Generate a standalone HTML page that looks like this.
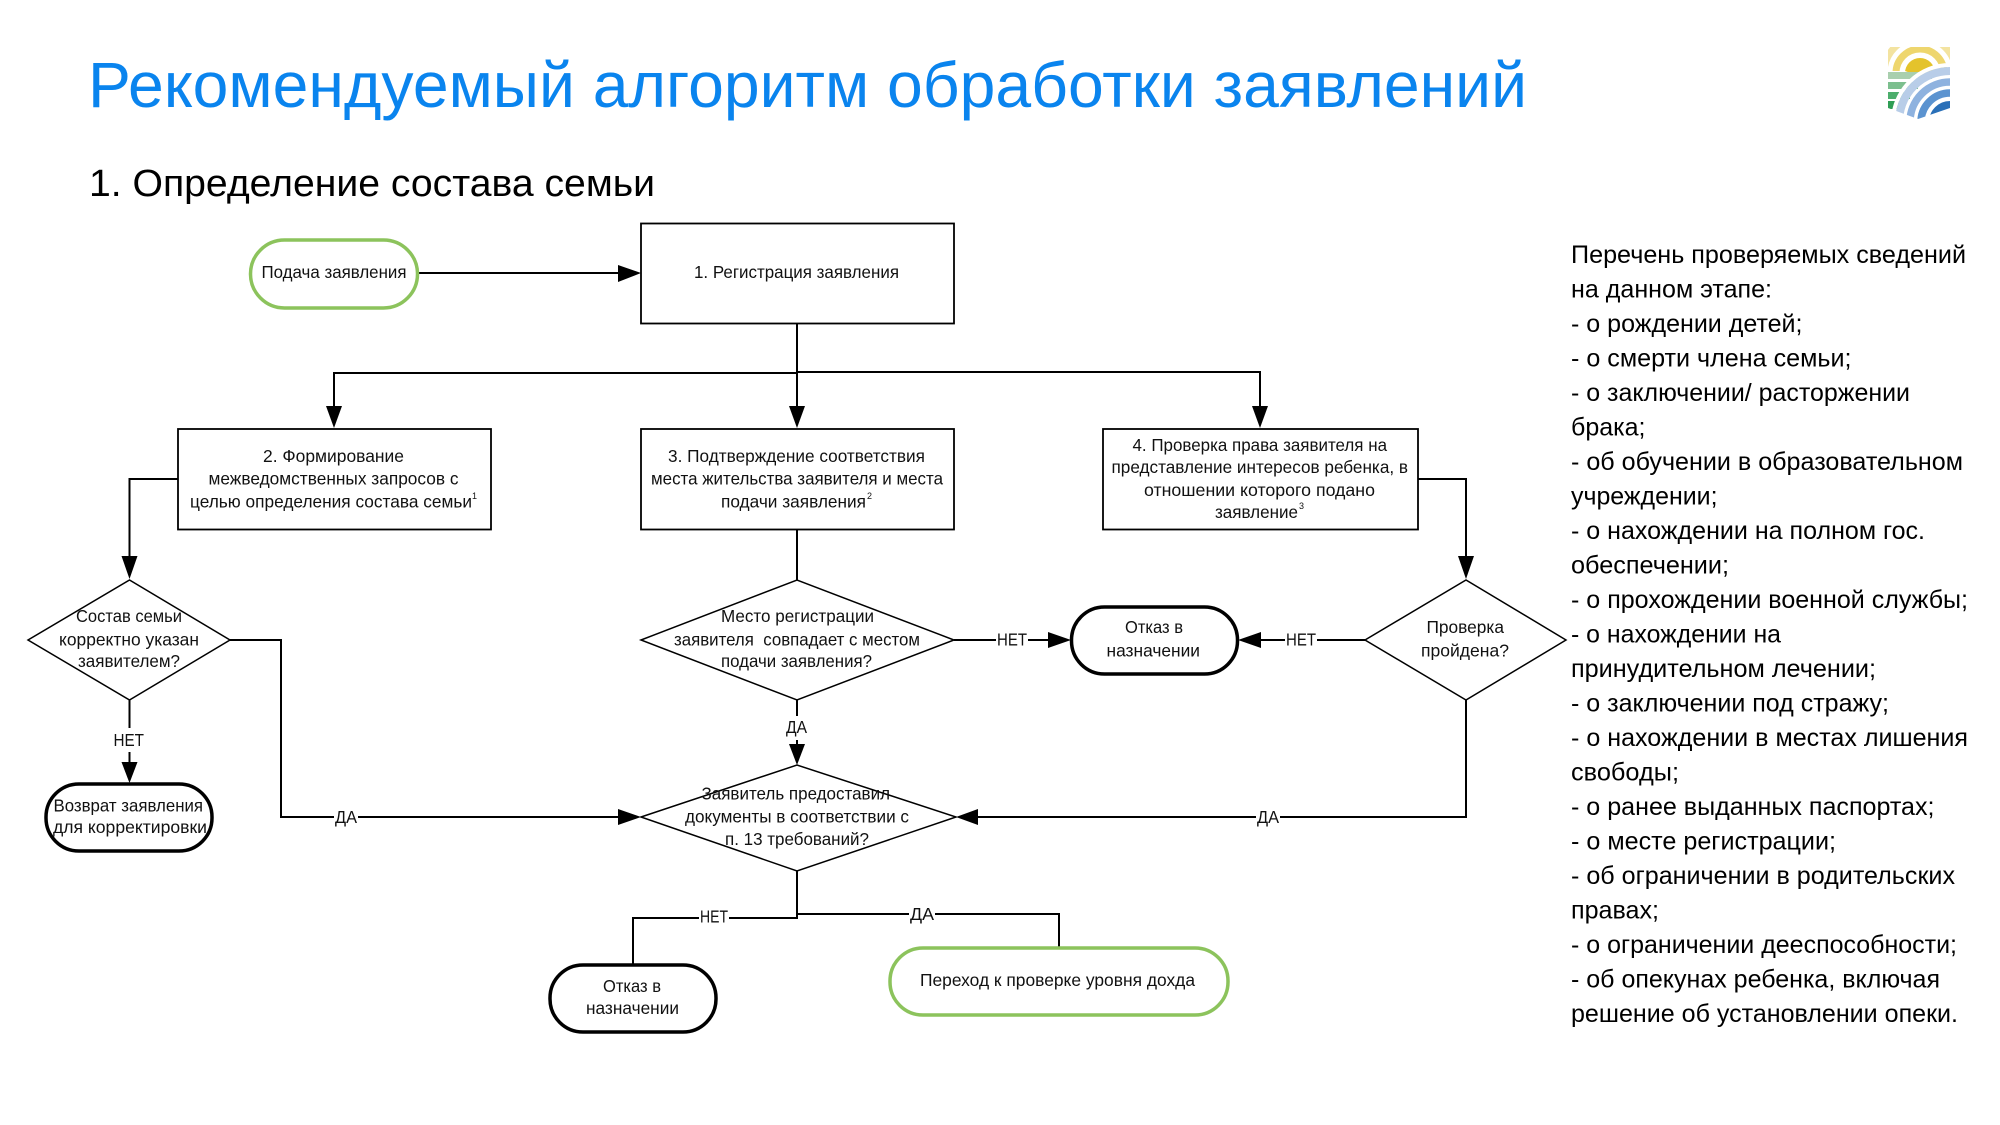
<!DOCTYPE html>
<html lang="ru"><head><meta charset="utf-8"><title>Рекомендуемый алгоритм обработки заявлений</title>
<style>
html,body{margin:0;padding:0;background:#fff}
svg{display:block}
text{font-family:"Liberation Sans",sans-serif;fill:#111}
.d text{font-size:17.500px}
.b text{font-size:25px;fill:#000}
.l{fill:none;stroke:#000;stroke-width:2}
.s{fill:#fff;stroke:#000;stroke-width:1.800}
.n{fill:#fff;stroke:#8cc35c;stroke-width:3.500}
.k{fill:#fff;stroke:#000;stroke-width:3.500}
</style></head><body>
<svg width="2000" height="1125" viewBox="0 0 2000 1125" xmlns="http://www.w3.org/2000/svg">
<rect width="2000" height="1125" fill="#fff"/>
<text x="88" y="107" font-size="64" textLength="1439" lengthAdjust="spacingAndGlyphs" style="fill:#0a84ee">Рекомендуемый алгоритм обработки заявлений</text>
<text x="89" y="196" font-size="38" textLength="566" lengthAdjust="spacingAndGlyphs" style="fill:#000">1. Определение состава семьи</text>

<!-- logo -->
<defs><clipPath id="lg"><path d="M1888 47H1950V108L1918 119L1888 108Z"/></clipPath></defs>
<g clip-path="url(#lg)" fill="none">
<circle cx="1920" cy="73" r="36" stroke="#f3e3a0" stroke-width="7"/>
<circle cx="1920" cy="73" r="24" stroke="#eed66e" stroke-width="7"/>
<circle cx="1920" cy="73" r="15" fill="#e4c32c"/>
<path d="M1904 72Q1914 76 1920 76Q1926 76 1938 72L1920 76Z" fill="#e4c32c"/>
<rect x="1888" y="71" width="62" height="50" fill="#fff"/>
<path d="M1905 71H1936L1919 76Z" fill="#e4c32c"/>
<rect x="1888" y="72" width="44" height="7" fill="#a9cfae"/>
<rect x="1888" y="82" width="30" height="7" fill="#7cbf8e"/>
<rect x="1888" y="92" width="22" height="7" fill="#4cae6c"/>
<rect x="1888" y="101" width="16" height="8" fill="#2f9e55"/>
<circle cx="1950" cy="122" r="57" stroke="#fff" stroke-width="4"/>
<circle cx="1950" cy="122" r="51" stroke="#b8cde8" stroke-width="8"/>
<circle cx="1950" cy="122" r="40" stroke="#8eb2df" stroke-width="7.500"/>
<circle cx="1950" cy="122" r="29" stroke="#5b93d0" stroke-width="7.500"/>
<circle cx="1950" cy="122" r="16" stroke="#2a70b8" stroke-width="10"/>
</g>

<!-- connectors -->
<g class="l">
<path d="M417 273H620"/>
<path d="M797 323V410"/>
<path d="M334 410V373H797"/>
<path d="M797 372H1260V410"/>
<path d="M178 479H129.500V560"/>
<path d="M1418 479H1466V560"/>
<path d="M797 529V580"/>
<path d="M129.500 700V765"/>
<path d="M230 640H281V817H620"/>
<path d="M797 700V748"/>
<path d="M954 640H1050"/>
<path d="M1365 640H1258"/>
<path d="M1466 700V817H975"/>
<path d="M797 871V918H633V964"/>
<path d="M797 914H1059V947"/>
</g>
<!-- arrowheads -->
<g fill="#000">
<path d="M618 265L641 273L618 282Z"/>
<path d="M326 406L334 428L342 406Z"/>
<path d="M789 406L797 428L805 406Z"/>
<path d="M1252 406L1260 428L1268 406Z"/>
<path d="M121.500 556L129.500 579L137.500 556Z"/>
<path d="M1458 556L1466 579L1474 556Z"/>
<path d="M121.500 762L129.500 783L137.500 762Z"/>
<path d="M789 744L797 765L805 744Z"/>
<path d="M618 809L641 817L618 825Z"/>
<path d="M978 809L956 817L978 825Z"/>
<path d="M1048 632L1071 640L1048 648Z"/>
<path d="M1261 632L1238 640L1261 648Z"/>
</g>

<!-- shapes -->
<rect class="n" x="250.500" y="240" width="167" height="68" rx="34"/>
<rect class="s" x="641" y="223.500" width="313" height="100"/>
<rect class="s" x="178" y="429" width="313" height="100.500"/>
<rect class="s" x="641" y="429" width="313" height="100.500"/>
<rect class="s" x="1103" y="429" width="315" height="100.500"/>
<g style="fill:#fff">
<path class="s" style="stroke-width:1.500" d="M28 640L129.500 580L230 640L129.500 700Z"/>
<path class="s" style="stroke-width:1.500" d="M641 640L797 580L954 640L797 700Z"/>
<path class="s" style="stroke-width:1.500" d="M641 817L797 765L956 817L797 871Z"/>
<path class="s" style="stroke-width:1.500" d="M1365 640L1466 580L1566 640L1466 700Z"/>
</g>
<rect class="k" x="46" y="784" width="166" height="67" rx="33"/>
<rect class="k" x="550" y="965" width="166" height="67" rx="33"/>
<rect class="k" x="1071.500" y="607" width="166" height="67" rx="33"/>
<rect class="n" x="890" y="948" width="338" height="67" rx="33"/>

<!-- diagram labels -->
<g class="d">
<text x="261.500" y="278" textLength="145" lengthAdjust="spacingAndGlyphs">Подача заявления</text>
<text x="694" y="278" textLength="205" lengthAdjust="spacingAndGlyphs">1. Регистрация заявления</text>

<text x="263" y="462" textLength="141" lengthAdjust="spacingAndGlyphs">2. Формирование</text>
<text x="208.500" y="484.500" textLength="250" lengthAdjust="spacingAndGlyphs">межведомственных запросов с</text>
<text x="190" y="507.500" textLength="282" lengthAdjust="spacingAndGlyphs">целью определения состава семьи</text>
<text x="472" y="499" style="font-size:9px">1</text>

<text x="668" y="462" textLength="257" lengthAdjust="spacingAndGlyphs">3. Подтверждение соответствия</text>
<text x="651" y="484.500" textLength="292" lengthAdjust="spacingAndGlyphs">места жительства заявителя и места</text>
<text x="721" y="507.500" textLength="145" lengthAdjust="spacingAndGlyphs">подачи заявления</text>
<text x="867" y="499" style="font-size:9px">2</text>

<text x="1132.500" y="451" textLength="254.500" lengthAdjust="spacingAndGlyphs">4. Проверка права заявителя на</text>
<text x="1111.500" y="473" textLength="296.500" lengthAdjust="spacingAndGlyphs">представление интересов ребенка, в</text>
<text x="1144" y="496" textLength="231" lengthAdjust="spacingAndGlyphs">отношении которого подано</text>
<text x="1215" y="518" textLength="83" lengthAdjust="spacingAndGlyphs">заявление</text>
<text x="1299" y="509" style="font-size:9px">3</text>

<text x="76" y="622" textLength="106" lengthAdjust="spacingAndGlyphs">Состав семьи</text>
<text x="59" y="645.500" textLength="140" lengthAdjust="spacingAndGlyphs">корректно указан</text>
<text x="78" y="667" textLength="102" lengthAdjust="spacingAndGlyphs">заявителем?</text>

<text x="721" y="622" textLength="153" lengthAdjust="spacingAndGlyphs">Место регистрации</text>
<text x="674" y="645.500" textLength="246" lengthAdjust="spacingAndGlyphs" xml:space="preserve">заявителя  совпадает с местом</text>
<text x="721" y="667" textLength="151" lengthAdjust="spacingAndGlyphs">подачи заявления?</text>

<text x="701.500" y="799.500" textLength="188.500" lengthAdjust="spacingAndGlyphs">Заявитель предоставил</text>
<text x="685" y="822.500" textLength="224" lengthAdjust="spacingAndGlyphs">документы в соответствии с</text>
<text x="725" y="845" textLength="144" lengthAdjust="spacingAndGlyphs">п. 13 требований?</text>

<text x="1426.500" y="633" textLength="77.500" lengthAdjust="spacingAndGlyphs">Проверка</text>
<text x="1421" y="656.500" textLength="88" lengthAdjust="spacingAndGlyphs">пройдена?</text>

<text x="53.500" y="811.500" textLength="149.500" lengthAdjust="spacingAndGlyphs">Возврат заявления</text>
<text x="53" y="833" textLength="154" lengthAdjust="spacingAndGlyphs">для корректировки</text>

<text x="603" y="992" textLength="58" lengthAdjust="spacingAndGlyphs">Отказ в</text>
<text x="586" y="1014" textLength="93" lengthAdjust="spacingAndGlyphs">назначении</text>

<text x="1125" y="633" textLength="58" lengthAdjust="spacingAndGlyphs">Отказ в</text>
<text x="1106.500" y="656.500" textLength="93.500" lengthAdjust="spacingAndGlyphs">назначении</text>

<text x="920" y="986" textLength="275" lengthAdjust="spacingAndGlyphs">Переход к проверке уровня дохда</text>

<!-- connector labels -->
<rect x="113" y="728" width="32" height="24" fill="#fff"/>
<text x="113.500" y="746" textLength="30.500" lengthAdjust="spacingAndGlyphs">НЕТ</text>
<rect x="334" y="808" width="24" height="20" fill="#fff"/>
<text x="335" y="823" textLength="22" lengthAdjust="spacingAndGlyphs">ДА</text>
<rect x="785" y="716" width="24" height="24" fill="#fff"/>
<text x="786" y="733" textLength="21" lengthAdjust="spacingAndGlyphs">ДА</text>
<rect x="996" y="630" width="32" height="20" fill="#fff"/>
<text x="997" y="645.500" textLength="30" lengthAdjust="spacingAndGlyphs">НЕТ</text>
<rect x="1285" y="630" width="32" height="20" fill="#fff"/>
<text x="1286" y="645.500" textLength="30" lengthAdjust="spacingAndGlyphs">НЕТ</text>
<rect x="1256" y="808" width="24" height="20" fill="#fff"/>
<text x="1257" y="823" textLength="22" lengthAdjust="spacingAndGlyphs">ДА</text>
<rect x="699" y="908" width="30" height="18" fill="#fff"/>
<text x="700" y="922.500" textLength="28" lengthAdjust="spacingAndGlyphs">НЕТ</text>
<rect x="909" y="905" width="26" height="18" fill="#fff"/>
<text x="910" y="920" textLength="24" lengthAdjust="spacingAndGlyphs">ДА</text>
</g>

<!-- right list -->
<g class="b">
<text x="1571" y="263" textLength="395" lengthAdjust="spacingAndGlyphs">Перечень проверяемых сведений</text>
<text x="1571" y="297.500" textLength="201" lengthAdjust="spacingAndGlyphs">на данном этапе:</text>
<text x="1571" y="332" textLength="231.500" lengthAdjust="spacingAndGlyphs">- о рождении детей;</text>
<text x="1571" y="366.500" textLength="280.500" lengthAdjust="spacingAndGlyphs">- о смерти члена семьи;</text>
<text x="1571" y="401" textLength="339" lengthAdjust="spacingAndGlyphs">- о заключении/ расторжении</text>
<text x="1571" y="435.500" textLength="74.500" lengthAdjust="spacingAndGlyphs">брака;</text>
<text x="1571" y="470" textLength="392" lengthAdjust="spacingAndGlyphs">- об обучении в образовательном</text>
<text x="1571" y="504.500" textLength="146.500" lengthAdjust="spacingAndGlyphs">учреждении;</text>
<text x="1571" y="539" textLength="354" lengthAdjust="spacingAndGlyphs">- о нахождении на полном гос.</text>
<text x="1571" y="573.500" textLength="158" lengthAdjust="spacingAndGlyphs">обеспечении;</text>
<text x="1571" y="608" textLength="397" lengthAdjust="spacingAndGlyphs">- о прохождении военной службы;</text>
<text x="1571" y="642.500" textLength="210" lengthAdjust="spacingAndGlyphs">- о нахождении на</text>
<text x="1571" y="677" textLength="305" lengthAdjust="spacingAndGlyphs">принудительном лечении;</text>
<text x="1571" y="711.500" textLength="318" lengthAdjust="spacingAndGlyphs">- о заключении под стражу;</text>
<text x="1571" y="746" textLength="397" lengthAdjust="spacingAndGlyphs">- о нахождении в местах лишения</text>
<text x="1571" y="780.500" textLength="108" lengthAdjust="spacingAndGlyphs">свободы;</text>
<text x="1571" y="815" textLength="363.500" lengthAdjust="spacingAndGlyphs">- о ранее выданных паспортах;</text>
<text x="1571" y="849.500" textLength="265" lengthAdjust="spacingAndGlyphs">- о месте регистрации;</text>
<text x="1571" y="884" textLength="384" lengthAdjust="spacingAndGlyphs">- об ограничении в родительских</text>
<text x="1571" y="918.500" textLength="88" lengthAdjust="spacingAndGlyphs">правах;</text>
<text x="1571" y="953" textLength="386" lengthAdjust="spacingAndGlyphs">- о ограничении дееспособности;</text>
<text x="1571" y="987.500" textLength="369" lengthAdjust="spacingAndGlyphs">- об опекунах ребенка, включая</text>
<text x="1571" y="1022" textLength="387" lengthAdjust="spacingAndGlyphs">решение об установлении опеки.</text>
</g>
</svg>
</body></html>
